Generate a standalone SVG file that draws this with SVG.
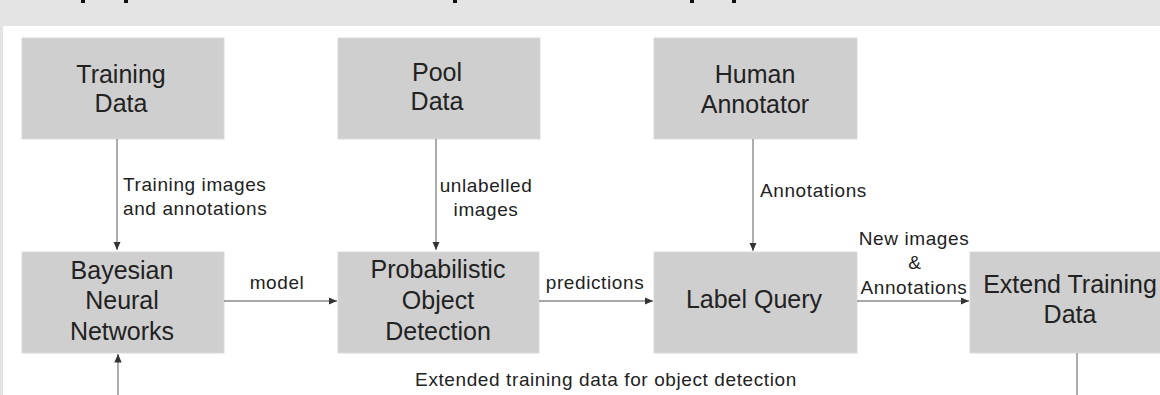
<svg xmlns="http://www.w3.org/2000/svg" width="1160" height="395" viewBox="0 0 1160 395">
  <style>
    .box { fill: #cfcfcf; stroke: #d9d9d9; stroke-width: 1; }
    .lbl { font-family: "Liberation Sans", Arial, sans-serif; font-size: 25px; fill: #222; text-anchor: middle; }
    .edge { font-family: "Liberation Sans", Arial, sans-serif; font-size: 19px; letter-spacing: 0.6px; fill: #222; }
    .mid { text-anchor: middle; }
    .conn { fill: none; stroke: #8a8a8a; stroke-width: 1.4; }
  </style>
  <defs>
    <marker id="arrow" markerUnits="userSpaceOnUse" markerWidth="9" markerHeight="8" refX="8.5" refY="3.75" orient="auto">
      <path d="M0,0 L8.5,3.75 L0,7.5 z" fill="#333"/>
    </marker>
  </defs>
  <rect width="1160" height="395" fill="#ffffff"/>
  <g id="frame">
    <rect x="0" y="0" width="1160" height="26" fill="#e4e4e4"/>
    <rect x="0" y="26" width="3" height="369" fill="#e4e4e4"/>
    <g fill="#111">
      <rect x="81" y="0" width="4" height="3"/>
      <rect x="124" y="0" width="4" height="3"/>
      <rect x="453" y="0" width="4" height="3"/>
      <rect x="690" y="0" width="4" height="3"/>
      <rect x="732" y="0" width="4" height="3"/>
    </g>
  </g>
  <g id="training-data">
    <rect class="box" x="22" y="38" width="202" height="101"/>
    <text class="lbl" x="121" y="83">Training</text>
    <text class="lbl" x="121" y="112">Data</text>
  </g>
  <g id="pool-data">
    <rect class="box" x="338" y="38" width="202" height="101"/>
    <text class="lbl" x="437" y="81">Pool</text>
    <text class="lbl" x="437" y="110">Data</text>
  </g>
  <g id="human-annotator">
    <rect class="box" x="654" y="38" width="203" height="101"/>
    <text class="lbl" x="755" y="83">Human</text>
    <text class="lbl" x="755" y="113">Annotator</text>
  </g>
  <g id="bayesian-nn">
    <rect class="box" x="22" y="252" width="202" height="101"/>
    <text class="lbl" x="122" y="279">Bayesian</text>
    <text class="lbl" x="122" y="309">Neural</text>
    <text class="lbl" x="122" y="340">Networks</text>
  </g>
  <g id="probabilistic-od">
    <rect class="box" x="338" y="252" width="201" height="101"/>
    <text class="lbl" x="438" y="278">Probabilistic</text>
    <text class="lbl" x="438" y="309">Object</text>
    <text class="lbl" x="438" y="340">Detection</text>
  </g>
  <g id="label-query">
    <rect class="box" x="654" y="252" width="203" height="101"/>
    <text class="lbl" x="754" y="308">Label Query</text>
  </g>
  <g id="extend-training-data">
    <rect class="box" x="970" y="252" width="200" height="101"/>
    <text class="lbl" x="1070" y="293">Extend Training</text>
    <text class="lbl" x="1070" y="323">Data</text>
  </g>
  <g id="connectors">
    <path class="conn" d="M117,139 V250" marker-end="url(#arrow)"/>
    <path class="conn" d="M436,139 V250" marker-end="url(#arrow)"/>
    <path class="conn" d="M753,139 V251" marker-end="url(#arrow)"/>
    <path class="conn" d="M224,301 H337" marker-end="url(#arrow)"/>
    <path class="conn" d="M539,301 H653" marker-end="url(#arrow)"/>
    <path class="conn" d="M857,301 H969" marker-end="url(#arrow)"/>
    <path class="conn" d="M1077,353 V395"/>
    <path class="conn" d="M118,395 V354" marker-end="url(#arrow)"/>
    <text class="edge" x="123" y="191">Training images</text>
    <text class="edge" x="123" y="215">and annotations</text>
    <text class="edge mid" x="486" y="192">unlabelled</text>
    <text class="edge mid" x="486" y="216">images</text>
    <text class="edge" x="760" y="197">Annotations</text>
    <text class="edge mid" x="277" y="289">model</text>
    <text class="edge mid" x="595" y="289">predictions</text>
    <text class="edge mid" x="914" y="245">New images</text>
    <text class="edge mid" x="915" y="269">&amp;</text>
    <text class="edge mid" x="914" y="294">Annotations</text>
    <text class="edge mid" x="606" y="386">Extended training data for object detection</text>
  </g>
</svg>
